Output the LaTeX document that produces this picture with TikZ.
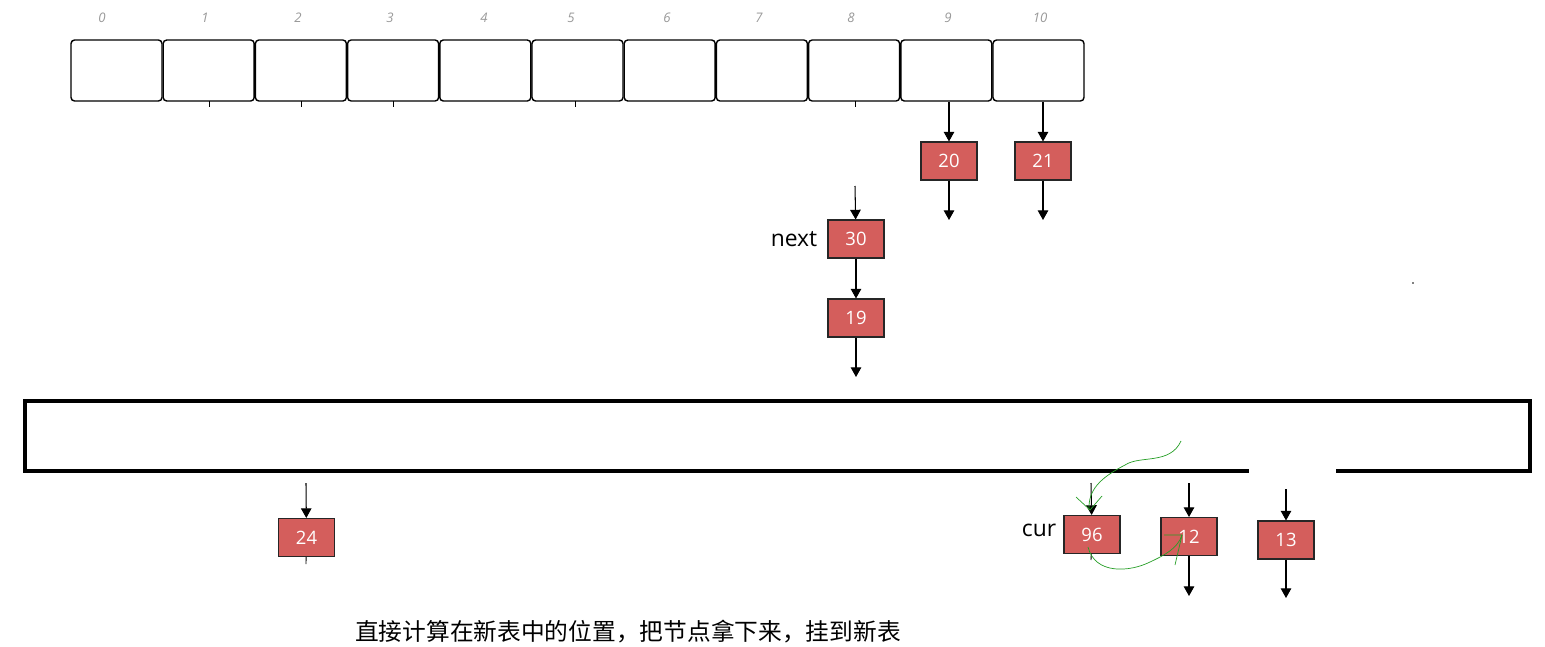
\documentclass[tikz,border=0pt]{standalone}
\usepackage{fontspec}
\setmainfont{Open Sans}
\newfontfamily\cjk{Noto Sans CJK SC}
\usetikzlibrary{arrows.meta}
\definecolor{nodered}{RGB}{212,94,92}
\tikzset{
  slot/.style={rectangle, draw, rounded corners=2pt, line width=0.8pt, minimum width=1.82cm, minimum height=1.22cm, inner sep=0pt},
  idx/.style={font=\fontsize{7.5}{9}\selectfont\itshape, text=gray!80},
  entry/.style={rectangle, draw=black!85, line width=0.6pt, fill=nodered, text=white, minimum width=1.12cm, minimum height=0.76cm, inner sep=0pt, font=\fontsize{10.5}{12}\selectfont},
  link/.style={-{Triangle[width=6pt,length=5.5pt]}, line width=0.6pt},
  ptr/.style={font=\fontsize{13}{15}\selectfont},
  stub/.style={line width=0.5pt},
  scribble/.style={green!55!black!85, line width=0.4pt}
}

\begin{document}
\begin{tikzpicture}[x=0.02cm, y=-0.02cm]
    \useasboundingbox (0,0) rectangle (1545,646);

    % Old table
    \foreach \i in {0,...,10}
        \node[slot] (s\i) at ({116.5+92.2*\i},70.5) {};
    \foreach \i/\x in {0/102,1/205,2/298,3/390,4/484,5/571,6/667,7/759,8/851,9/948,10/1040}
        \node[idx] (i\i) at (\x,18) {\i};
    \foreach \x in {209,301,393,575,855}
        \draw[stub] (\x,101) -- (\x,107);

    % Buckets 9 and 10
    \node[entry] (n20) at (949,161) {20};
    \node[entry] (n21) at (1043,161) {21};
    \coordinate (e20) at (949,220);
    \coordinate (e21) at (1043,220);

    % Bucket 8, being moved
    \coordinate (t30) at (855,186);
    \node[entry] (n30) at (856,239) {30};
    \node[ptr] (lnext) at (794,239) {next};
    \node[entry] (n19) at (856,318) {19};
    \coordinate (e19) at (856,377);

    \fill (1413,283) circle (0.8);

    % New table
    \node[draw, line width=2.3pt, minimum width=30.1cm, minimum height=1.4cm, inner sep=0pt] (newtab) at (777.5,436) {};
    \draw[white, line width=3pt] (1249,471) -- (1336,471);

    % Entries of the new table
    \coordinate (t24) at (306,483);
    \node[entry] (n24) at (306.5,537.5) {24};
    \coordinate (e24) at (306,564);
    \coordinate (t96) at (1091,483);
    \node[entry] (n96) at (1092,534.5) {96};
    \node[ptr] (lcur) at (1039,530) {cur};
    \coordinate (e96) at (1091,560);
    \coordinate (t12) at (1189,483);
    \node[entry] (n12) at (1189,536.5) {12};
    \coordinate (e12) at (1189,596);
    \coordinate (t13) at (1286,489);
    \node[entry] (n13) at (1286,540) {13};
    \coordinate (e13) at (1286,598);

    % Arrows
    \draw[link] (s9.south -| n20) -- (n20);
    \draw[link] (s10.south -| n21) -- (n21);
    \draw[link] (n20) -- (e20);
    \draw[link] (n21) -- (e21);
    \draw[link] (t30) -- (n30);
    \draw[link] (n30) -- (n19);
    \draw[link] (n19) -- (e19);
    \draw[link] (t24) -- (n24);
    \draw[stub] (n24) -- (e24);
    \draw[link] (t96) -- (n96);
    \draw[stub] (n96) -- (e96);
    \draw[link] (t12) -- (n12);
    \draw[link] (n12) -- (e12);
    \draw[link] (t13) -- (n13);
    \draw[link] (n13) -- (e13);

    % Hand drawn marks
    \draw[scribble] (1181,441) .. controls (1170,465) and (1140,455) .. (1125,465) .. controls (1100,478) and (1088,490) .. (1089,510);
    \draw[scribble] (1076,497) -- (1090,510) -- (1102,496);
    \draw[scribble] (1088,547) .. controls (1095,575) and (1130,572) .. (1150,562) .. controls (1165,555) and (1178,548) .. (1182,535);
    \draw[scribble] (1164,535) -- (1182,535) -- (1175,565);

    % Caption
    \node[font=\cjk\fontsize{13.5}{16}\selectfont] (caption) at (628,632) {直接计算在新表中的位置，把节点拿下来，挂到新表};
\end{tikzpicture}
\end{document}
